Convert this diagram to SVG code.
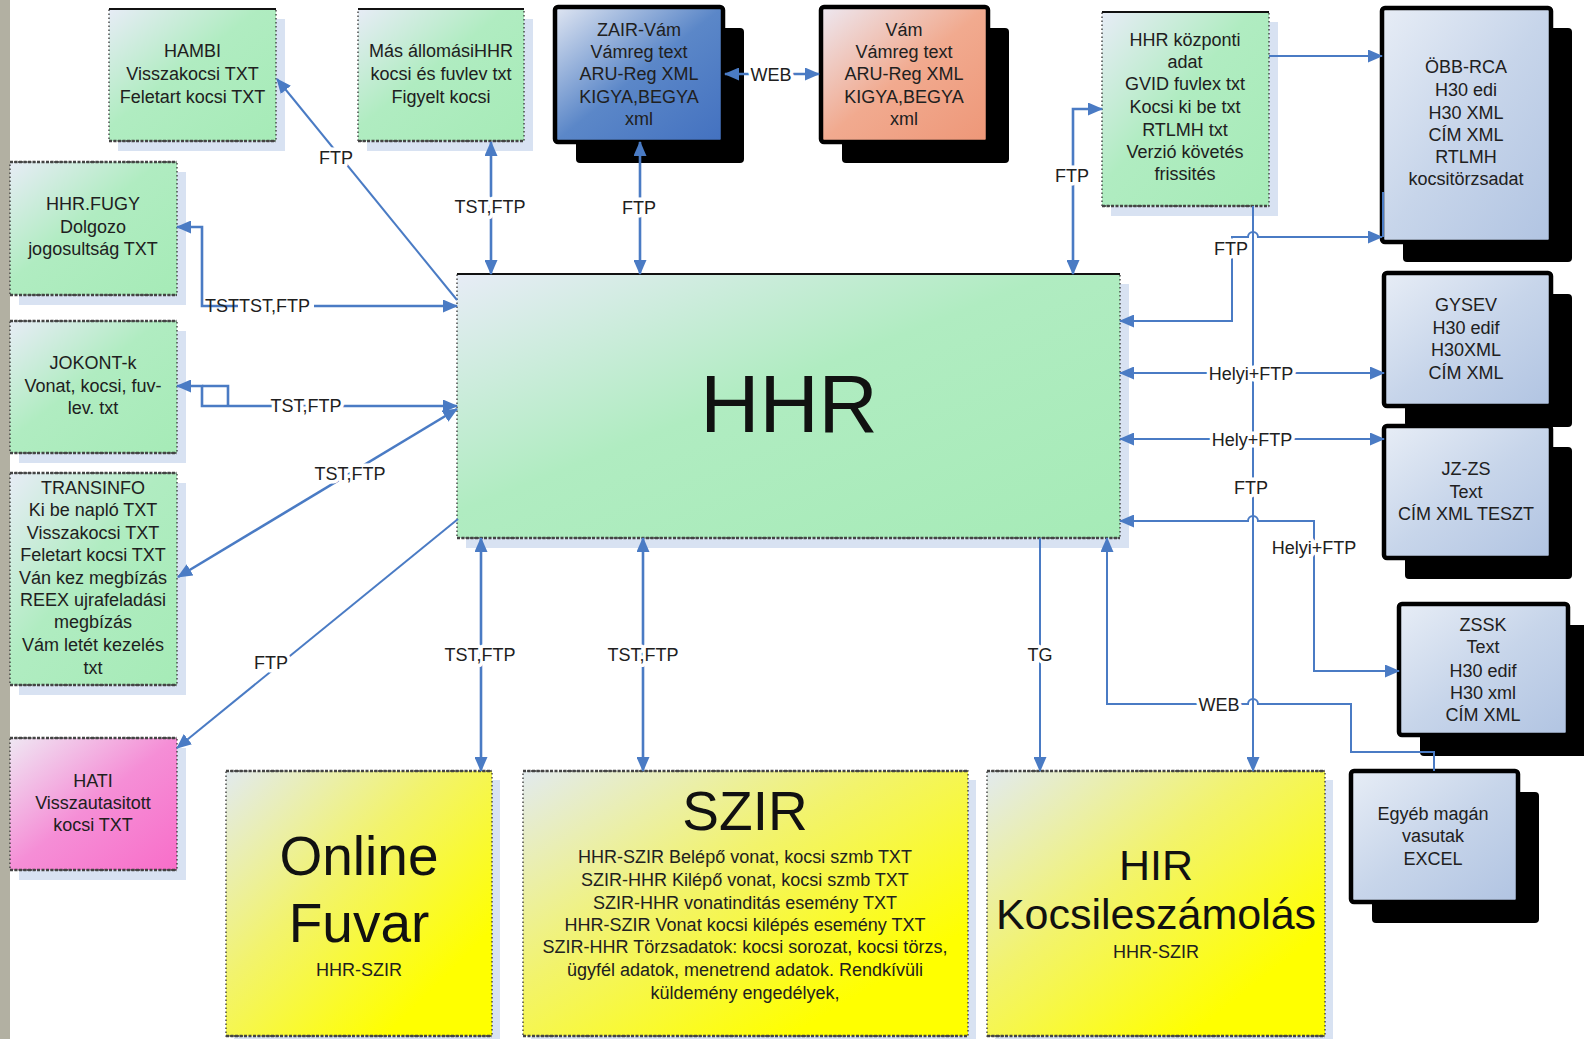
<svg xmlns="http://www.w3.org/2000/svg" width="1584" height="1039" viewBox="0 0 1584 1039">
<defs>
<style>
.t{font-family:"Liberation Sans",Arial,Helvetica,sans-serif;font-size:18px;fill:#202020;text-anchor:middle}
.big{font-size:55px;fill:#111}
.lbl{font-family:"Liberation Sans",Arial,Helvetica,sans-serif;font-size:18px;fill:#202020;text-anchor:middle;paint-order:stroke;stroke:#fff;stroke-width:7px;stroke-linejoin:round}
.c{fill:none;stroke:#4a7bc4;stroke-width:2.6}
.th{stroke-width:2}
.e{marker-end:url(#ah)}
.b{marker-start:url(#ah);marker-end:url(#ah)}
.gs{fill:#d8e2f2}
.gb{stroke:#333;stroke-width:1.3;stroke-dasharray:1.5 2.5}
.tb{stroke:#111;stroke-width:2}
.bb{stroke:#444;stroke-width:2.4;stroke-dasharray:3 1.5}
.ks{fill:#000}
.kb{stroke:#000;stroke-width:4.5}
</style>
<marker id="ah" viewBox="0 0 15 13" markerUnits="userSpaceOnUse" markerWidth="15" markerHeight="13" refX="14" refY="6.5" orient="auto-start-reverse">
<path d="M0,0 L15,6.5 L0,13 z" fill="#4a7bc4"/>
</marker>
<linearGradient id="gG" x1="0" y1="0" x2="1" y2="1">
<stop offset="0" stop-color="#e7ecf6"/><stop offset="0.45" stop-color="#b0ecc1"/><stop offset="1" stop-color="#a6ebb7"/>
</linearGradient>
<linearGradient id="gY" x1="0" y1="0" x2="1" y2="1">
<stop offset="0" stop-color="#e2eaee"/><stop offset="0.4" stop-color="#f2f36c"/><stop offset="0.8" stop-color="#ffff00"/><stop offset="1" stop-color="#ffff00"/>
</linearGradient>
<linearGradient id="gL" x1="0" y1="0" x2="1" y2="1">
<stop offset="0" stop-color="#e7edf6"/><stop offset="0.5" stop-color="#c7d5ea"/><stop offset="1" stop-color="#b1c4e2"/>
</linearGradient>
<linearGradient id="gB" x1="0" y1="0" x2="1" y2="1">
<stop offset="0" stop-color="#e0e6f2"/><stop offset="0.5" stop-color="#5b87c8"/><stop offset="1" stop-color="#4371c0"/>
</linearGradient>
<linearGradient id="gO" x1="0" y1="0" x2="1" y2="1">
<stop offset="0" stop-color="#ede8f1"/><stop offset="0.5" stop-color="#f1aa8f"/><stop offset="1" stop-color="#ee9778"/>
</linearGradient>
<linearGradient id="gP" x1="0" y1="0" x2="1" y2="1">
<stop offset="0" stop-color="#efe7f3"/><stop offset="0.5" stop-color="#f58ed6"/><stop offset="1" stop-color="#f86ec9"/>
</linearGradient>
</defs>
<rect x="0" y="0" width="1584" height="1039" fill="#fff"/>
<rect x="0" y="0" width="10" height="1039" fill="#b2b0a2"/>

<g id="n-hambi">
<rect class="gs" x="118" y="19" width="167" height="132"/>
<rect class="gb" x="109" y="9" width="167" height="132" fill="url(#gG)"/>
<line class="tb" x1="109" y1="9" x2="276" y2="9"/><line class="bb" x1="109" y1="141" x2="276" y2="141"/>
<text class="t"><tspan x="192.5" y="57">HAMBI</tspan><tspan x="192.5" y="80">Visszakocsi TXT</tspan><tspan x="192.5" y="102.5">Feletart kocsi TXT</tspan></text>
</g>
<g id="n-mas">
<rect class="gs" x="367" y="19" width="166" height="132"/>
<rect class="gb" x="358" y="9" width="166" height="132" fill="url(#gG)"/>
<line class="tb" x1="358" y1="9" x2="524" y2="9"/><line class="bb" x1="358" y1="141" x2="524" y2="141"/>
<text class="t"><tspan x="441" y="57">Más állomásiHHR</tspan><tspan x="441" y="80">kocsi és fuvlev txt</tspan><tspan x="441" y="102.5">Figyelt kocsi</tspan></text>
</g>
<g id="n-zair">
<rect class="ks" x="576" y="28" width="168" height="135" rx="4"/>
<rect class="kb" x="555" y="7" width="168" height="135" rx="3" fill="url(#gB)"/>
<text class="t"><tspan x="639" y="36">ZAIR-Vám</tspan><tspan x="639" y="58">Vámreg text</tspan><tspan x="639" y="80">ARU-Reg XML</tspan><tspan x="639" y="102.5">KIGYA,BEGYA</tspan><tspan x="639" y="124.5">xml</tspan></text>
</g>
<g id="n-vam">
<rect class="ks" x="842" y="28" width="167" height="135" rx="4"/>
<rect class="kb" x="821" y="7" width="167" height="135" rx="3" fill="url(#gO)"/>
<text class="t"><tspan x="904" y="36">Vám</tspan><tspan x="904" y="58">Vámreg text</tspan><tspan x="904" y="80">ARU-Reg XML</tspan><tspan x="904" y="102.5">KIGYA,BEGYA</tspan><tspan x="904" y="124.5">xml</tspan></text>
</g>
<g id="n-kozponti">
<rect class="gs" x="1111" y="22" width="167" height="194"/>
<rect class="gb" x="1102" y="12" width="167" height="194" fill="url(#gG)"/>
<line class="tb" x1="1102" y1="12" x2="1269" y2="12"/><line class="bb" x1="1102" y1="206" x2="1269" y2="206"/>
<text class="t"><tspan x="1185" y="46">HHR központi</tspan><tspan x="1185" y="68">adat</tspan><tspan x="1185" y="90">GVID fuvlex txt</tspan><tspan x="1185" y="112.5">Kocsi ki be txt</tspan><tspan x="1185" y="135.5">RTLMH txt</tspan><tspan x="1185" y="158">Verzió követés</tspan><tspan x="1185" y="180">frissités</tspan></text>
</g>
<g id="n-obb">
<rect class="ks" x="1403" y="28" width="169" height="234" rx="4"/>
<rect class="kb" x="1382" y="8" width="169" height="234" rx="3" fill="url(#gL)"/>
<text class="t"><tspan x="1466" y="73">ÖBB-RCA</tspan><tspan x="1466" y="95.5">H30 edi</tspan><tspan x="1466" y="118.5">H30 XML</tspan><tspan x="1466" y="140.5">CÍM XML</tspan><tspan x="1466" y="163">RTLMH</tspan><tspan x="1466" y="185">kocsitörzsadat</tspan></text>
</g>
<g id="n-fugy">
<rect class="gs" x="19" y="172" width="167" height="133"/>
<rect class="gb" x="10" y="162" width="167" height="133" fill="url(#gG)"/>
<line class="bb" x1="10" y1="162" x2="177" y2="162"/><line class="bb" x1="10" y1="295" x2="177" y2="295"/>
<text class="t"><tspan x="93" y="209.5">HHR.FUGY</tspan><tspan x="93" y="232.5">Dolgozo</tspan><tspan x="93" y="255">jogosultság TXT</tspan></text>
</g>
<g id="n-jokont">
<rect class="gs" x="19" y="331" width="167" height="132"/>
<rect class="gb" x="10" y="321" width="167" height="132" fill="url(#gG)"/>
<line class="bb" x1="10" y1="321" x2="177" y2="321"/><line class="bb" x1="10" y1="453" x2="177" y2="453"/>
<text class="t"><tspan x="93" y="369">JOKONT-k</tspan><tspan x="93" y="391.5">Vonat, kocsi, fuv-</tspan><tspan x="93" y="413.5">lev. txt</tspan></text>
</g>
<g id="n-transinfo">
<rect class="gs" x="19" y="483" width="167" height="212"/>
<rect class="gb" x="10" y="473" width="167" height="212" fill="url(#gG)"/>
<line class="bb" x1="10" y1="473" x2="177" y2="473"/><line class="bb" x1="10" y1="685" x2="177" y2="685"/>
<text class="t"><tspan x="93" y="493.5">TRANSINFO</tspan><tspan x="93" y="515.5">Ki be napló TXT</tspan><tspan x="93" y="538.5">Visszakocsi TXT</tspan><tspan x="93" y="561">Feletart kocsi TXT</tspan><tspan x="93" y="583.5">Ván kez megbízás</tspan><tspan x="93" y="605.5">REEX ujrafeladási</tspan><tspan x="93" y="627.5">megbízás</tspan><tspan x="93" y="651">Vám letét kezelés</tspan><tspan x="93" y="673.5">txt</tspan></text>
</g>
<g id="n-hati">
<rect class="gs" x="19" y="748" width="167" height="132"/>
<rect class="gb" x="10" y="738" width="167" height="132" fill="url(#gP)"/>
<line class="bb" x1="10" y1="738" x2="177" y2="738"/><line class="bb" x1="10" y1="870" x2="177" y2="870"/>
<text class="t"><tspan x="93" y="786.5">HATI</tspan><tspan x="93" y="808.5">Visszautasitott</tspan><tspan x="93" y="830.5">kocsi TXT</tspan></text>
</g>
<g id="n-hhr">
<rect class="gs" x="466" y="284" width="663" height="264"/>
<rect class="gb" x="457" y="274" width="663" height="264" fill="url(#gG)"/>
<line class="tb" x1="457" y1="274" x2="1120" y2="274"/><line class="bb" x1="457" y1="538" x2="1120" y2="538"/>
<text class="t" x="789" y="432" style="font-size:82px;fill:#111">HHR</text>
</g>
<g id="n-gysev">
<rect class="ks" x="1405" y="294" width="167" height="133" rx="4"/>
<rect class="kb" x="1384" y="273" width="167" height="133" rx="3" fill="url(#gL)"/>
<text class="t"><tspan x="1466" y="310.5">GYSEV</tspan><tspan x="1466" y="333.5">H30 edif</tspan><tspan x="1466" y="356">H30XML</tspan><tspan x="1466" y="378.5">CÍM XML</tspan></text>
</g>
<g id="n-jzzs">
<rect class="ks" x="1405" y="447" width="167" height="132" rx="4"/>
<rect class="kb" x="1384" y="426" width="167" height="132" rx="3" fill="url(#gL)"/>
<text class="t"><tspan x="1466" y="474.5">JZ-ZS</tspan><tspan x="1466" y="497.5">Text</tspan><tspan x="1466" y="519.5">CÍM XML TESZT</tspan></text>
</g>
<g id="n-zssk">
<rect class="ks" x="1420" y="625" width="169" height="131" rx="4"/>
<rect class="kb" x="1399" y="604" width="169" height="131" rx="3" fill="url(#gL)"/>
<text class="t"><tspan x="1483" y="630.5">ZSSK</tspan><tspan x="1483" y="653">Text</tspan><tspan x="1483" y="676.5">H30 edif</tspan><tspan x="1483" y="698.5">H30 xml</tspan><tspan x="1483" y="720.5">CÍM XML</tspan></text>
</g>
<g id="n-egyeb">
<rect class="ks" x="1372" y="792" width="167" height="131" rx="4"/>
<rect class="kb" x="1351" y="771" width="167" height="131" rx="3" fill="url(#gL)"/>
<text class="t"><tspan x="1433" y="819.5">Egyéb magán</tspan><tspan x="1433" y="842">vasutak</tspan><tspan x="1433" y="864.5">EXCEL</tspan></text>
</g>
<g id="n-online">
<rect class="gs" x="234" y="780" width="266" height="265"/>
<rect class="gb" x="226" y="771" width="266" height="265" fill="url(#gY)"/>
<line class="bb" x1="226" y1="771" x2="492" y2="771"/><line class="bb" x1="226" y1="1036" x2="492" y2="1036"/>
<text class="t big" x="359" y="875">Online</text>
<text class="t big" x="359" y="942">Fuvar</text>
<text class="t" x="359" y="976">HHR-SZIR</text>
</g>
<g id="n-szir">
<rect class="gs" x="531" y="780" width="445" height="265"/>
<rect class="gb" x="523" y="771" width="445" height="265" fill="url(#gY)"/>
<line class="bb" x1="523" y1="771" x2="968" y2="771"/><line class="bb" x1="523" y1="1036" x2="968" y2="1036"/>
<text class="t big" x="745" y="830">SZIR</text>
<text class="t"><tspan x="745" y="863">HHR-SZIR Belépő vonat, kocsi szmb TXT</tspan><tspan x="745" y="885.5">SZIR-HHR Kilépő vonat, kocsi szmb TXT</tspan><tspan x="745" y="908.5">SZIR-HHR vonatinditás esemény TXT</tspan><tspan x="745" y="930.5">HHR-SZIR Vonat kocsi kilépés esemény TXT</tspan><tspan x="745" y="953">SZIR-HHR Törzsadatok: kocsi sorozat, kocsi törzs,</tspan><tspan x="745" y="975.5">ügyfél adatok, menetrend adatok. Rendkívüli</tspan><tspan x="745" y="998.5">küldemény engedélyek,</tspan></text>
</g>
<g id="n-hir">
<rect class="gs" x="995" y="780" width="338" height="265"/>
<rect class="gb" x="987" y="771" width="338" height="265" fill="url(#gY)"/>
<line class="bb" x1="987" y1="771" x2="1325" y2="771"/><line class="bb" x1="987" y1="1036" x2="1325" y2="1036"/>
<text class="t" x="1156" y="880" style="font-size:43px;fill:#111">HIR</text>
<text class="t" x="1156" y="929" style="font-size:43px;fill:#111">Kocsileszámolás</text>
<text class="t" x="1156" y="958">HHR-SZIR</text>
</g>

<g id="connectors">
<path class="c th e" d="M457,300 L277,79"/>
<path class="c b" d="M491,142 V274"/>
<path class="c b" d="M640,142 V274"/>
<path class="c b" d="M725,74 H819"/>
<path class="c b" d="M457,306 H202 V227 H177"/>
<path class="c b" d="M457,406 H202 V386 H177"/>
<path class="c" d="M202,386 H228 V406"/>
<path class="c b" d="M457,409 L178,577"/>
<path class="c th e" d="M458,519 L177,748"/>
<path class="c b" d="M481,538 V771"/>
<path class="c b" d="M643,538 V771"/>
<path class="c th e" d="M1040,538 V771"/>
<path class="c b" d="M1073,274 V109 H1102"/>
<path class="c th e" d="M1269,56 H1382"/>
<path class="c th e" d="M1253,206 V771"/>
<path class="c th b" d="M1120,321 H1232 V237 H1248 a5,5 0 0 1 10,0 H1382"/>
<path class="c th" d="M1383,192 V237"/>
<path class="c th b" d="M1120,373 H1384"/>
<path class="c th b" d="M1120,439 H1384"/>
<path class="c th b" d="M1120,521 H1248 a5,5 0 0 1 10,0 H1314 V671 H1399"/>
<path class="c th e" d="M1434,771 V752 H1351 V704 H1258 a5,5 0 0 0 -10,0 H1107 V538"/>
<rect x="238" y="294" width="76" height="20" fill="#fff"/>
<text class="t" x="205" y="312" style="text-anchor:start">TSTTST,FTP</text>
<text class="lbl" x="336" y="163.5">FTP</text>
<text class="lbl" x="490" y="212.5">TST,FTP</text>
<text class="lbl" x="639" y="213.5">FTP</text>
<text class="lbl" x="771" y="80.5">WEB</text>
<text class="lbl" x="306" y="411.5">TST,FTP</text>
<text class="lbl" x="350" y="479.5">TST,FTP</text>
<text class="lbl" x="271" y="668.5">FTP</text>
<text class="lbl" x="480" y="660.5">TST,FTP</text>
<text class="lbl" x="643" y="660.5">TST,FTP</text>
<text class="lbl" x="1040" y="660.5">TG</text>
<text class="lbl" x="1072" y="181.5">FTP</text>
<text class="lbl" x="1231" y="254.5">FTP</text>
<text class="lbl" x="1251" y="379.5">Helyi+FTP</text>
<text class="lbl" x="1252" y="445.5">Hely+FTP</text>
<text class="lbl" x="1251" y="493.5">FTP</text>
<text class="lbl" x="1314" y="553.5">Helyi+FTP</text>
<text class="lbl" x="1219" y="710.5">WEB</text>
</g>
</svg>
